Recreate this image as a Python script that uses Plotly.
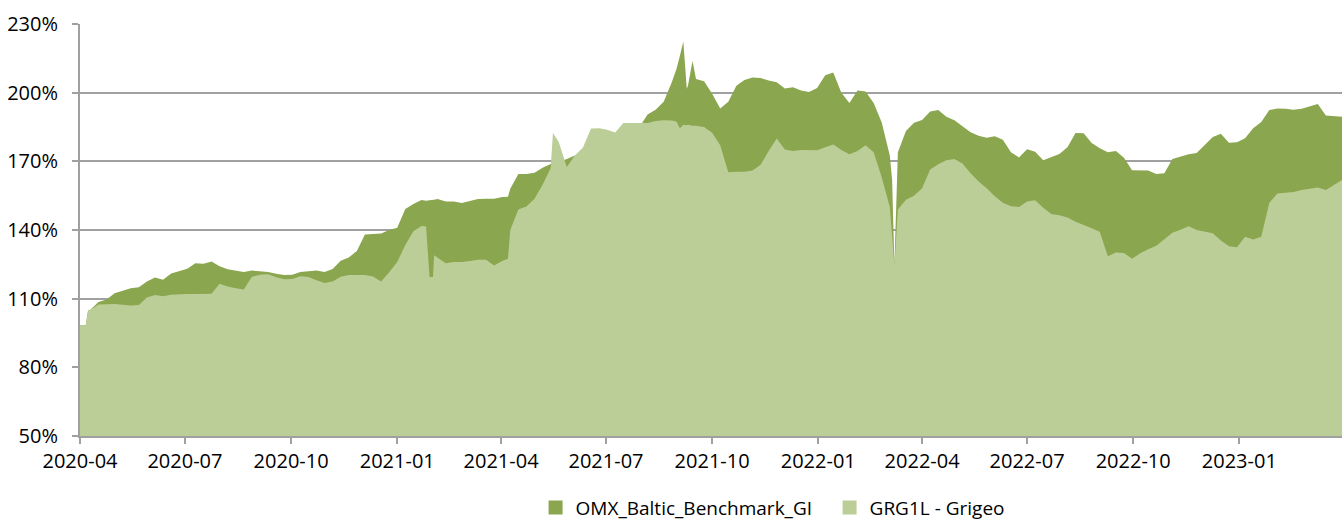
import pandas as pd
import plotly.graph_objects as go

# Weekly observation dates (Fridays)
week_dates = pd.date_range("2020-04-03", periods=157, freq="7D")

omx_weekly = [
    98.4, 105.2, 108.5, 109.6, 112.4, 113.5, 114.6, 115.0, 117.5, 119.2,
    118.3, 121.0, 122.2, 123.1, 125.5, 125.3, 126.2, 124.2, 122.9, 122.3,
    121.7, 122.3, 122.0, 121.6, 120.9, 120.3, 120.5, 121.7, 122.0, 122.3,
    121.7, 123.0, 126.6, 128.0, 130.8, 138.0, 138.3, 138.5, 140.0, 141.0,
    149.2, 151.4, 153.1, 153.0, 153.5, 152.4, 152.4, 151.8, 152.7, 153.5,
    153.7, 153.6, 154.4, 158.0, 164.5, 164.5, 165.0, 167.2, 168.8, 169.6,
    171.0, 172.6, 174.0, 177.0, 178.0, 179.0, 180.0, 182.0, 183.0, 185.0,
    190.5, 192.5, 196.0, 204.5, 216.0, 203.0, 206.0, 205.0, 199.5, 193.1,
    196.0, 203.0, 205.5, 206.6, 206.4, 205.3, 204.5, 201.8, 202.4, 201.0,
    200.3, 202.0, 207.6, 208.8, 200.0, 195.5, 201.0, 200.5, 195.5, 187.0,
    172.5, 174.0, 183.3, 186.9, 188.1, 191.8, 192.4, 189.5, 188.0, 185.3,
    182.7, 181.2, 180.3, 181.0, 179.4, 174.0, 171.7, 175.3, 174.2, 170.5,
    171.7, 173.2, 176.2, 182.4, 182.3, 178.0, 175.7, 174.0, 174.5, 171.6,
    166.1, 166.0, 166.0, 164.5, 164.8, 171.0, 172.2, 173.1, 173.6, 177.0,
    180.6, 182.0, 178.1, 178.3, 180.1, 184.5, 187.2, 192.4, 193.1, 193.0,
    192.5, 193.0, 194.0, 195.0, 190.0, 189.6, 189.5,
]

grg_weekly = [
    98.4, 105.2, 107.4, 107.4, 107.7, 107.3, 107.0, 107.2, 110.5, 111.6,
    111.1, 111.7, 112.0, 112.0, 112.0, 112.0, 112.1, 116.5, 115.3, 114.5,
    114.0, 119.6, 120.5, 120.7, 119.4, 118.5, 118.6, 119.8, 119.5, 118.0,
    116.8, 117.5, 119.6, 120.3, 120.3, 120.3, 119.7, 117.5, 121.5, 126.0,
    133.5, 139.5, 141.7, 119.5, 128.0, 125.5, 126.0, 126.0, 126.5, 127.0,
    127.0, 124.5, 126.5, 140.0, 149.0, 150.3, 153.6, 159.8, 167.0, 178.5,
    167.5, 172.5, 176.0, 184.3, 184.5, 183.8, 182.6, 186.7, 186.7, 186.7,
    186.8, 187.6, 188.0, 187.8, 184.5, 186.0, 185.5, 185.0, 182.5, 177.0,
    165.2, 165.5, 165.5, 166.0, 168.5, 174.5, 180.0, 175.2, 174.5, 175.0,
    175.0, 174.8, 176.2, 177.4, 175.0, 173.1, 174.5, 177.0, 174.0, 163.0,
    150.0, 149.0, 153.2, 155.0, 158.2, 166.4, 168.7, 170.5, 171.0, 169.0,
    164.8, 161.2, 158.2, 154.7, 151.9, 150.4, 150.1, 152.4, 153.0, 149.7,
    147.0, 146.4, 145.5, 143.6, 142.3, 140.8, 139.2, 128.5, 130.2, 130.0,
    127.4, 129.8, 131.6, 133.1, 136.0, 138.8, 140.1, 141.6, 140.0, 139.3,
    138.6, 135.4, 132.9, 132.5, 137.1, 135.8, 137.0, 151.9, 156.0, 156.3,
    156.6, 157.5, 158.2, 158.6, 157.5, 159.5, 161.8,
]

# Additional daily observations around sharp moves
extra_dates = [
    "2020-04-01", "2020-04-06", "2020-04-08", "2021-01-26", "2021-02-01",
    "2021-02-02", "2021-04-07", "2021-05-16", "2021-08-31", "2021-09-06",
    "2021-09-09", "2021-09-14", "2022-03-06", "2022-03-08",
]
omx_extra = [98.4, 98.4, 104.8, 152.8, 153.0, 153.2, 154.5, 168.8, 210.2, 222.4, 201.7, 213.8, 162.0, 124.6]
grg_extra = [98.4, 98.4, 104.8, 141.5, 119.5, 129.0, 127.4, 182.4, 187.4, 186.0, 185.8, 185.5, 138.0, 124.6]

series_names = ["OMX_Baltic_Benchmark_GI", "GRG1L - Grigeo"]
series_colors = ["#8AA64E", "#BBCE97"]

df = pd.concat([
    pd.DataFrame({"date": week_dates, "omx": omx_weekly, "grg": grg_weekly}),
    pd.DataFrame({"date": pd.to_datetime(extra_dates), "omx": omx_extra, "grg": grg_extra}),
]).sort_values("date").reset_index(drop=True)

font_family = "Open Sans, Noto Sans, sans-serif"
grid_col = "#A0A0A0"

fig = go.Figure()
for col, name, color in zip(["omx", "grg"], series_names, series_colors):
    fig.add_trace(go.Scatter(
        x=df["date"], y=df[col], mode="lines", fill="tozeroy",
        line=dict(width=0, color=color), fillcolor=color,
        name=name, showlegend=False, hoverinfo="skip",
    ))
# legend entries as square markers
for name, color in zip(series_names, series_colors):
    fig.add_trace(go.Scatter(
        x=[None], y=[None], mode="markers", name=name,
        marker=dict(symbol="square", size=14, color=color),
    ))

fig.update_layout(
    width=1344, height=529,
    margin=dict(l=80, r=2, t=24, b=85),
    paper_bgcolor="white", plot_bgcolor="white",
    font=dict(family=font_family, size=20, color="#000000"),
    showlegend=True,
    legend=dict(
        orientation="h", x=0.361, xanchor="left", y=-0.174, yanchor="middle",
        font=dict(size=19), itemwidth=30, tracegroupgap=0,
        entrywidth=249, entrywidthmode="pixels",
    ),
)
fig.update_xaxes(
    type="date", range=["2020-04-01", "2023-03-31"],
    tick0="2020-04-01", dtick="M3", tickformat="%Y-%m",
    ticks="outside", ticklen=6, tickwidth=2, tickcolor=grid_col,
    showline=True, linecolor=grid_col, linewidth=2,
    showgrid=False, zeroline=False,
)
fig.update_yaxes(
    range=[50, 230], dtick=30, tick0=50, ticksuffix="%",
    ticks="outside", ticklen=6, tickwidth=2, tickcolor=grid_col,
    showline=True, linecolor=grid_col, linewidth=2,
    showgrid=True, gridcolor=grid_col, gridwidth=2, zeroline=False,
    ticklabelstandoff=10,
)

fig.write_html("out.html", config={"displayModeBar": False},
               post_script="document.body.style.margin='0';")
